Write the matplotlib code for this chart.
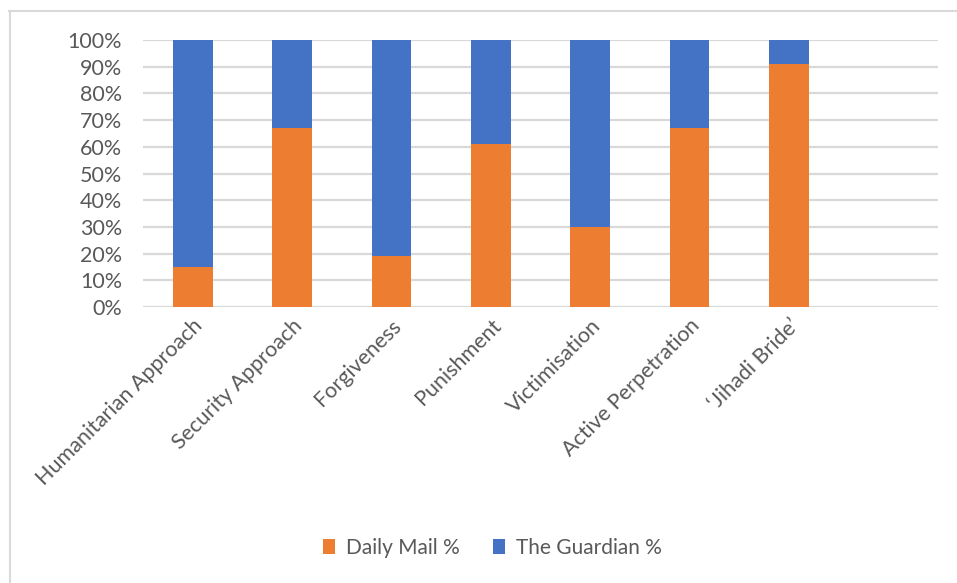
import numpy as np
import matplotlib
matplotlib.use("Agg")
import matplotlib.pyplot as plt
from matplotlib.lines import Line2D
from matplotlib.ticker import PercentFormatter

categories = ["Humanitarian Approach", "Security Approach", "Forgiveness", "Punishment",
              "Victimisation", "Active Perpetration", "\u2018Jihadi Bride\u2019"]
daily_mail = [15, 67, 19, 61, 30, 67, 91]
guardian = [85, 33, 81, 39, 70, 33, 9]
y_ticks = [0, 10, 20, 30, 40, 50, 60, 70, 80, 90, 100]

plt.rcParams['font.family'] = ['Lato', 'DejaVu Sans']
text_grey = '#595959'
grid_grey = '#d9d9d9'

W, H = 957, 583
fig = plt.figure(figsize=(W / 100, H / 100), dpi=100)
ax = fig.add_axes([143 / W, 1 - 307 / H, (938 - 143) / W, (307 - 40) / H])

x = np.arange(len(categories))
ax.bar(x, daily_mail, width=0.4, color='#ED7D31', label='Daily Mail %', zorder=3)
ax.bar(x, guardian, width=0.4, bottom=daily_mail, color='#4472C4', label='The Guardian %', zorder=3)

ax.set_xlim(-0.5, 7.5)
ax.set_ylim(0, 100)
ax.set_yticks(y_ticks)
ax.yaxis.set_major_formatter(PercentFormatter(decimals=0))
ax.grid(axis='y', color=grid_grey, linewidth=1.6, zorder=0)
for s in ax.spines.values():
    s.set_visible(False)
ax.tick_params(axis='y', length=0, pad=15, labelsize=15.5, labelcolor=text_grey)
ax.tick_params(axis='x', length=0, pad=6, labelsize=15.5, labelcolor=text_grey)
ax.set_xticks(x)
ax.set_xticklabels(categories, rotation=45, ha='right', rotation_mode='anchor')

fig.legend(loc='center', bbox_to_anchor=(492 / W, 1 - 548 / H), ncol=2, frameon=False,
           fontsize=15, labelcolor=text_grey, handlelength=0.6, handleheight=0.7,
           handletextpad=0.5, columnspacing=1.6)

# chart frame (top and left edges visible)
fig.add_artist(Line2D([9 / W, 1], [1 - 11 / H, 1 - 11 / H], color=grid_grey, linewidth=1.5))
fig.add_artist(Line2D([9.5 / W, 9.5 / W], [0, 1 - 11 / H], color=grid_grey, linewidth=1.5))

fig.savefig("out.png", dpi=100, facecolor='white')
